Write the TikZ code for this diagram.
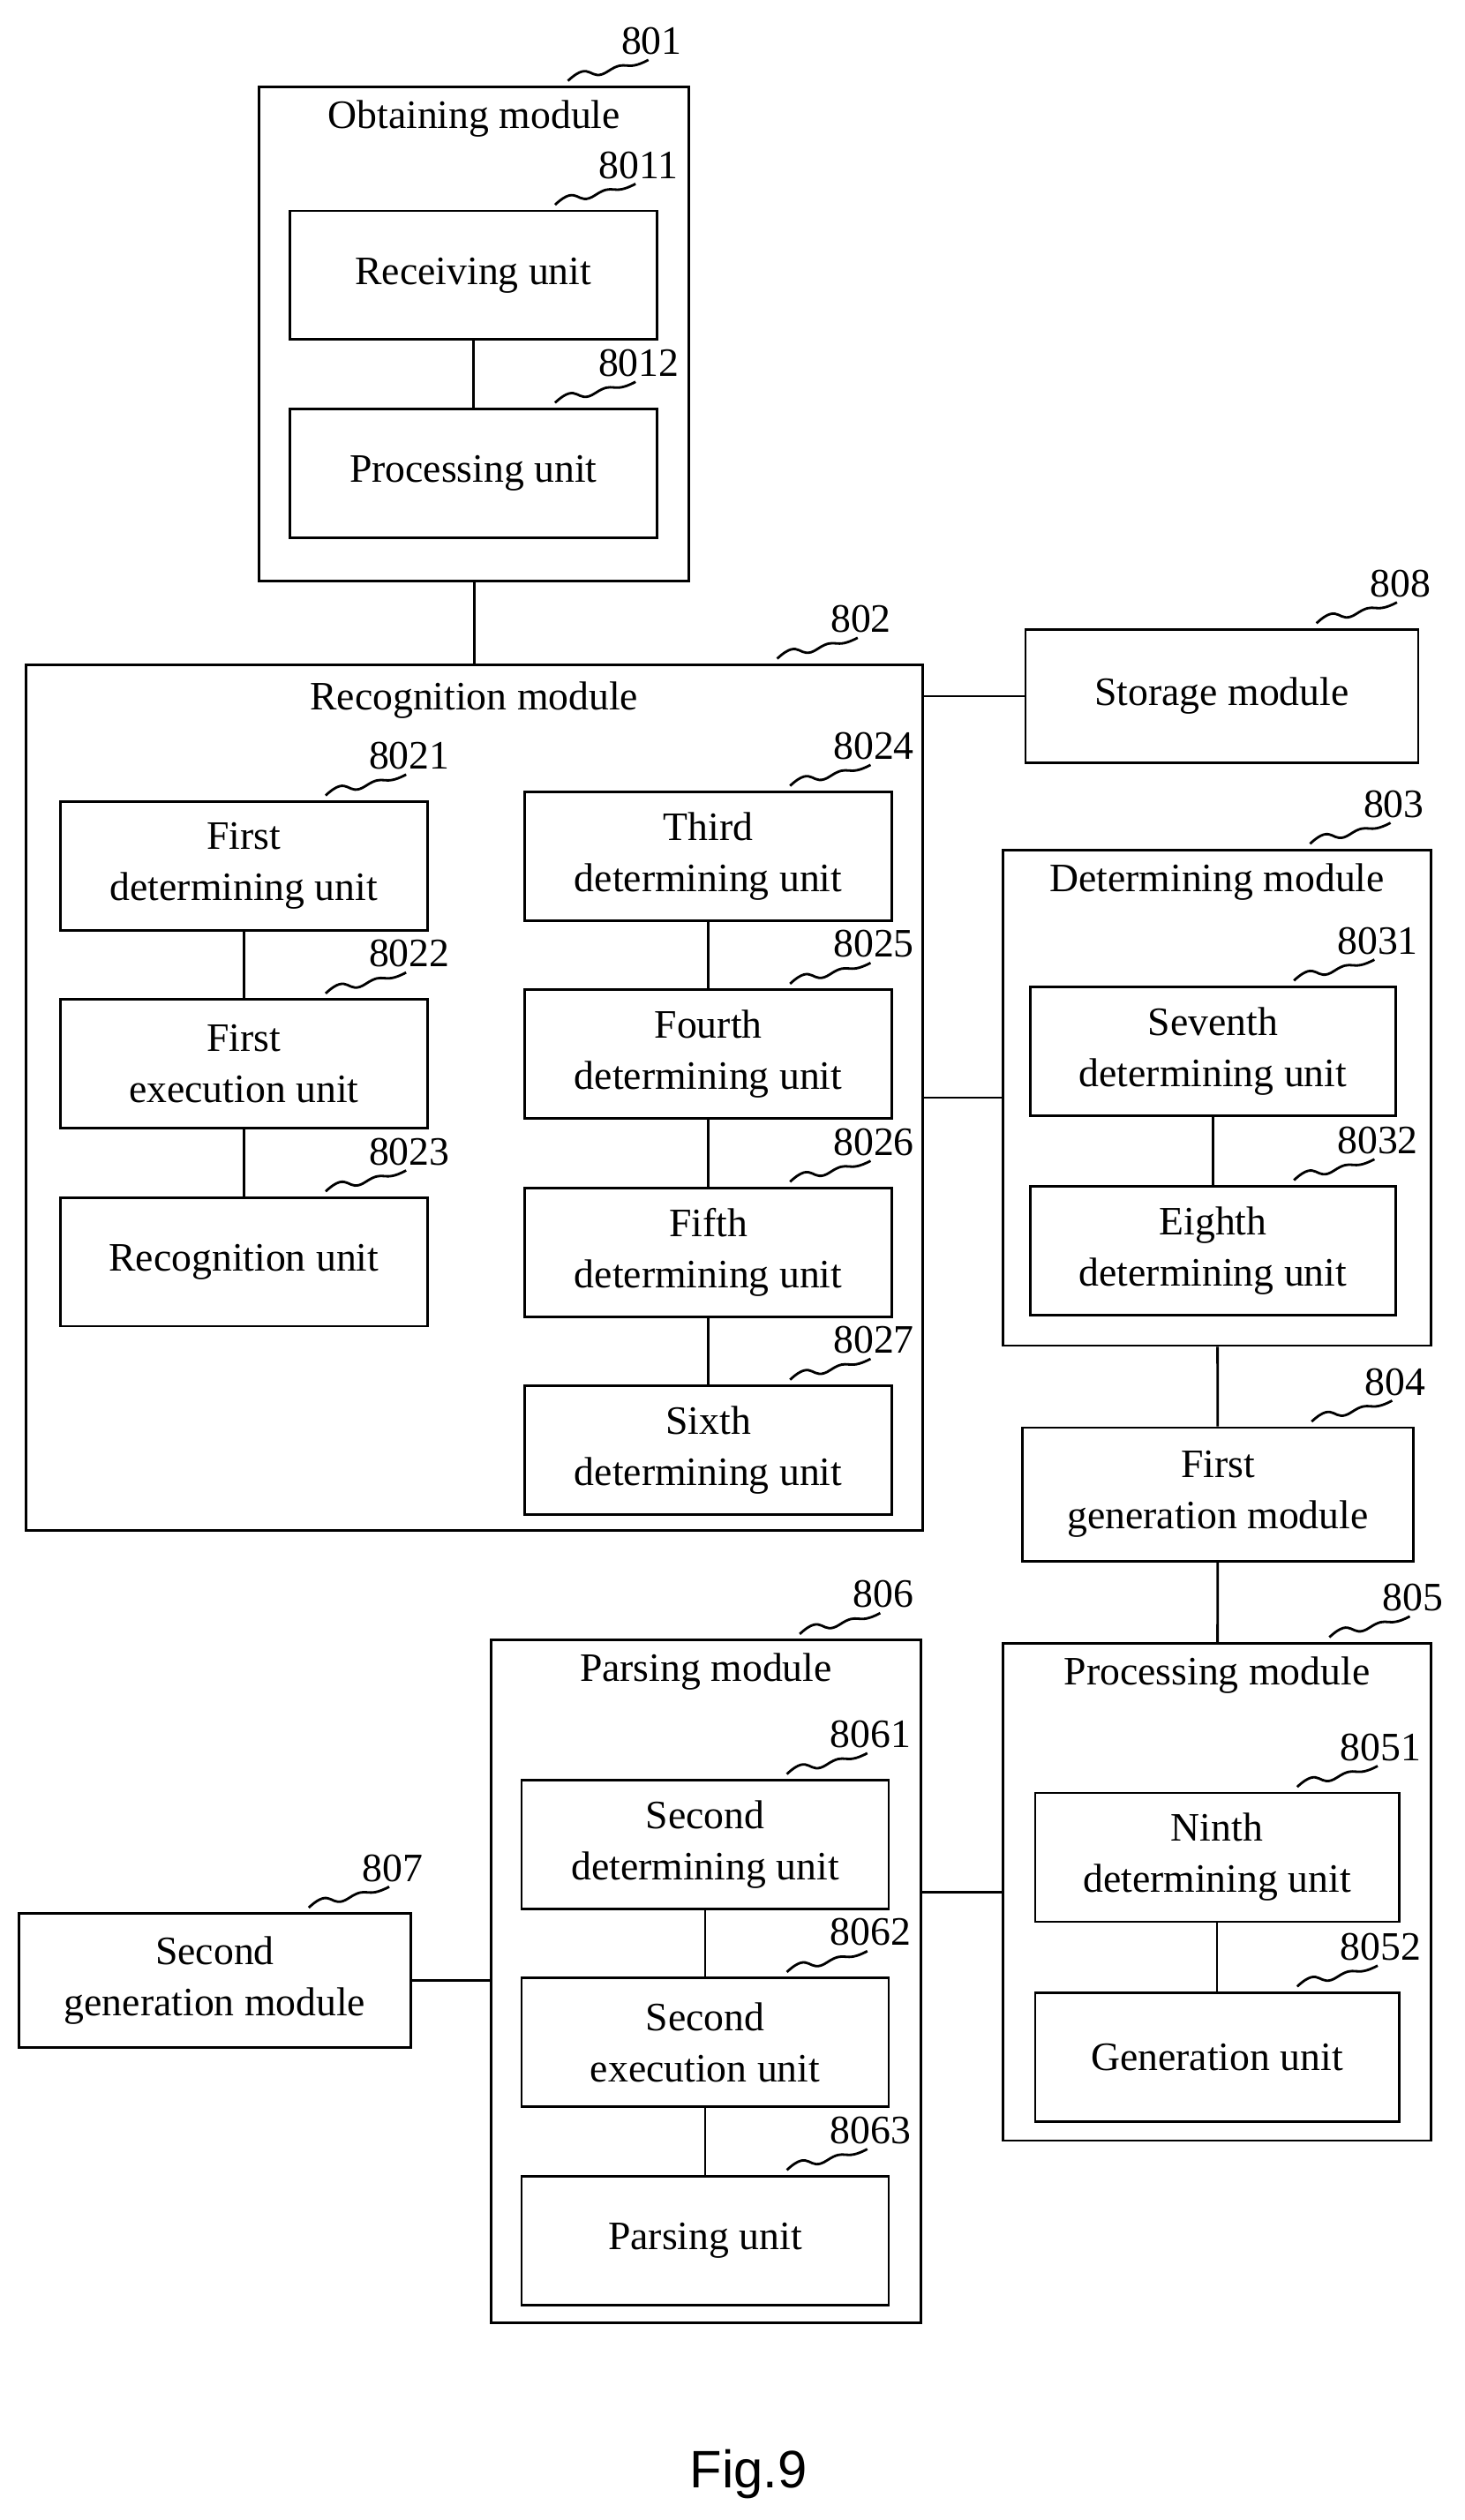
\documentclass[tikz,border=0pt]{standalone}
\usepackage{fontspec}
\setmainfont{Liberation Serif}
\setsansfont{Liberation Sans}
\usetikzlibrary{positioning}
\newcommand\px{0.01824cm}
% reference number with a wavy leader, at the top right corner of a box
\newcommand\numtag[3]{%
  \draw ($(#1)+(-#3-50,-3)$) .. controls ++(15,-14) and ++(-12,8) .. ++(25,-6)
        .. controls ++(12,-8) and ++(-15,8) .. ++(25,-7);
  \node[anchor=south] at ($(#1)+(-#3+2,-12)$) {#2};}
\usetikzlibrary{calc}
\begin{document}
\begin{tikzpicture}[x=0.01824cm,y=-0.01824cm,
  font=\fontsize{13}{16.5}\selectfont,
  box/.style={draw,line width=0.8pt,align=center,inner sep=0pt},
  unit/.style={box,minimum width=228*\px,minimum height=80*\px},
  every path/.style={line width=0.8pt}]
\useasboundingbox (0,0) rectangle (910,1565.7);

% Obtaining module
\node[box,minimum width=267*\px,minimum height=307*\px] (m801) at (294.5,207.5) {};
\node[below=2*\px of m801.north] {Obtaining module};
\node[unit] (u8011) at (294,171) {Receiving unit};
\node[unit] (u8012) at (294,294) {Processing unit};
\numtag{m801.north east}{801}{26}
\numtag{u8011.north east}{8011}{14}
\numtag{u8012.north east}{8012}{14}

% Recognition module
\node[box,minimum width=557*\px,minimum height=538*\px] (m802) at (294.5,682) {};
\node[below=4*\px of m802.north] {Recognition module};
\node[unit] (u8021) at (151.5,538) {First\\determining unit};
\node[unit] (u8022) at (151.5,661) {First\\execution unit};
\node[unit] (u8023) at (151.5,784) {Recognition unit};
\node[unit] (u8024) at (440,532) {Third\\determining unit};
\node[unit] (u8025) at (440,655) {Fourth\\determining unit};
\node[unit] (u8026) at (440,778) {Fifth\\determining unit};
\node[unit] (u8027) at (440,901) {Sixth\\determining unit};
\numtag{m802.north east}{802}{41}
\foreach \u in {8021,8022,8023,8024,8025,8026,8027}
  {\numtag{u\u.north east}{\u}{14}}

% Storage module
\node[box,minimum width=244*\px,minimum height=83*\px] (s808) at (759,432.5) {Storage module};
\numtag{s808.north east}{808}{14}

% Determining module
\node[box,minimum width=266*\px,minimum height=308*\px] (m803) at (756,682) {};
\node[below=2*\px of m803.north] {Determining module};
\node[unit,minimum width=227*\px] (u8031) at (753.5,653) {Seventh\\determining unit};
\node[unit,minimum width=227*\px] (u8032) at (753.5,777) {Eighth\\determining unit};
\numtag{m803.north east}{803}{26}
\numtag{u8031.north east}{8031}{14}
\numtag{u8032.north east}{8032}{14}

% First generation module
\node[box,minimum width=243*\px,minimum height=83*\px] (g804) at (756.5,928.5) {First\\generation module};
\numtag{g804.north east}{804}{14}

% Processing module
\node[box,minimum width=266*\px,minimum height=309*\px] (m805) at (756,1175.5) {};
\node[below=2*\px of m805.north] {Processing module};
\node[unit,minimum width=226*\px] (u8051) at (756,1154) {Ninth\\determining unit};
\node[unit,minimum width=226*\px] (u8052) at (756,1278) {Generation unit};
\numtag{m805.north east}{805}{14}
\numtag{u8051.north east}{8051}{14}
\numtag{u8052.north east}{8052}{14}

% Parsing module
\node[box,minimum width=267*\px,minimum height=424*\px] (m806) at (438.5,1231) {};
\node[below=2*\px of m806.north] {Parsing module};
\node[unit] (u8061) at (438,1146) {Second\\determining unit};
\node[unit] (u8062) at (438,1269) {Second\\execution unit};
\node[unit] (u8063) at (438,1392) {Parsing unit};
\numtag{m806.north east}{806}{26}
\foreach \u in {8061,8062,8063}
  {\numtag{u\u.north east}{\u}{14}}

% Second generation module
\node[box,minimum width=243*\px,minimum height=83*\px] (g807) at (133.5,1230.5) {Second\\generation module};
\numtag{g807.north east}{807}{14}

% Connections
\draw (u8011) -- (u8012);
\draw (m801) -- (m802);
\draw (u8021) -- (u8022);
\draw (u8022) -- (u8023);
\draw (u8024) -- (u8025);
\draw (u8025) -- (u8026);
\draw (u8026) -- (u8027);
\draw (m802.east |- s808.west) -- (s808.west);
\draw (m802.east) -- (m802.east -| m803.west);
\draw (u8031) -- (u8032);
\draw (m803) -- (g804);
\draw (g804) -- (m805);
\draw (u8051) -- (u8052);
\draw (m805.west -| m806.east) -- (m805.west);
\draw (u8061) -- (u8062);
\draw (u8062) -- (u8063);
\draw (g807.east) -- (g807.east -| m806.west);

\node[font=\sffamily\fontsize{17}{20}\selectfont] (fig) at (465,1537) {Fig.9};
\end{tikzpicture}
\end{document}
